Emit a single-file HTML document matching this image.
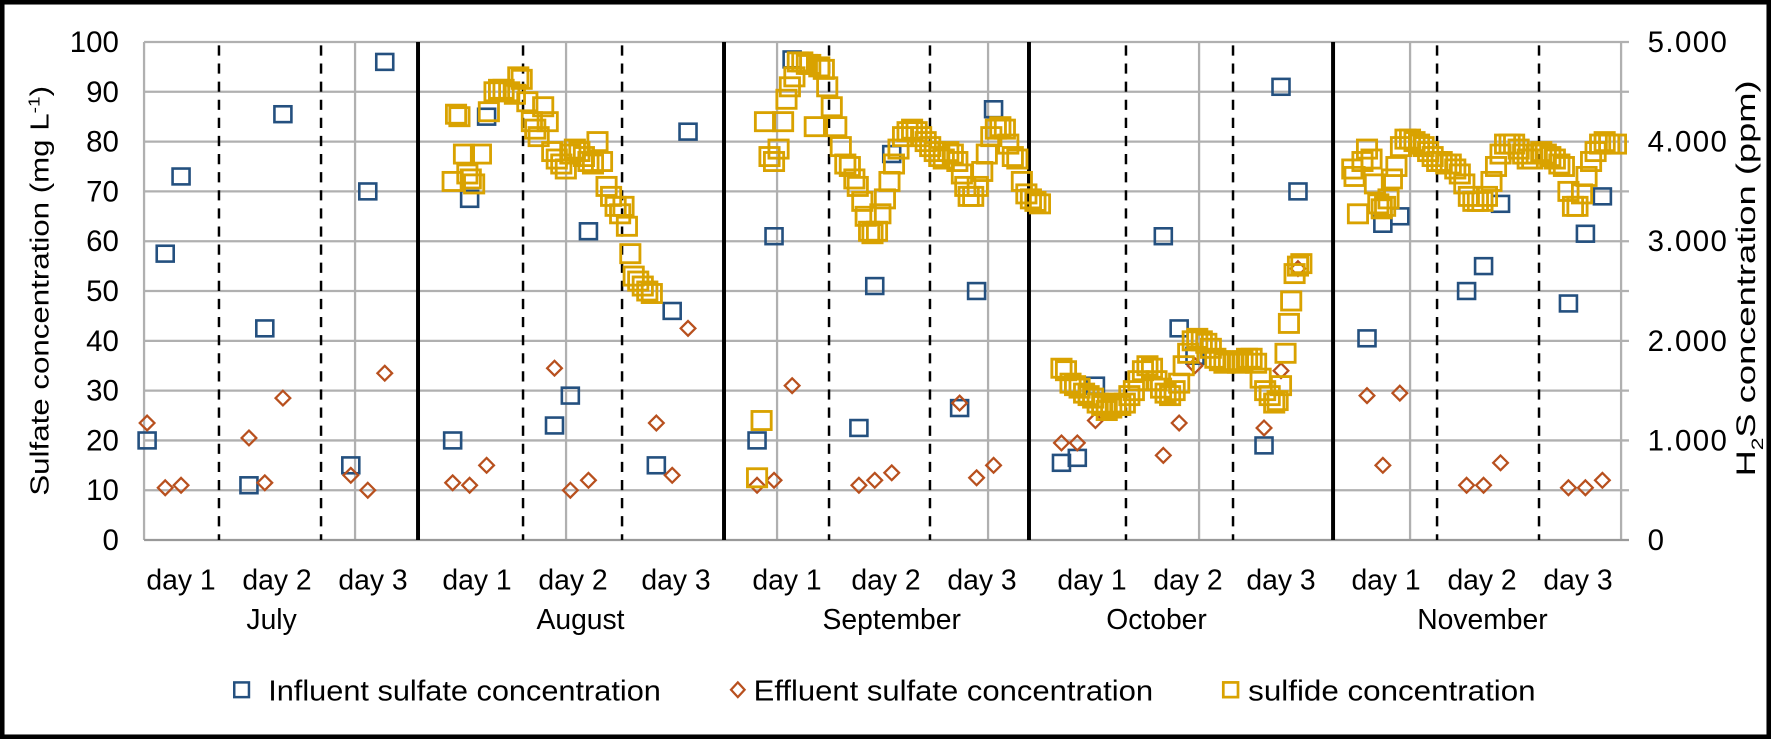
<!DOCTYPE html>
<html><head><meta charset="utf-8"><style>
html,body{margin:0;padding:0;background:#fff}
svg{display:block}
text{font-family:"Liberation Sans",sans-serif;fill:#000}
</style></head><body>
<svg id="s" width="1771" height="739" viewBox="0 0 1565 653" preserveAspectRatio="none" xmlns="http://www.w3.org/2000/svg">
<rect x="2" y="2" width="1561" height="649" fill="#fff" stroke="#000" stroke-width="4"/>
<g id="grid"></g>
<g id="pts"></g>
<g font-size="26">
<text x="105" y="46" text-anchor="end">100</text>
<text x="105" y="90" text-anchor="end">90</text>
<text x="105" y="134" text-anchor="end">80</text>
<text x="105" y="178" text-anchor="end">70</text>
<text x="105" y="222" text-anchor="end">60</text>
<text x="105" y="266" text-anchor="end">50</text>
<text x="105" y="310" text-anchor="end">40</text>
<text x="105" y="354" text-anchor="end">30</text>
<text x="105" y="398" text-anchor="end">20</text>
<text x="105" y="442" text-anchor="end">10</text>
<text x="105" y="486" text-anchor="end">0</text>
<text x="1456" y="46" textLength="70">5.000</text>
<text x="1456" y="134" textLength="70">4.000</text>
<text x="1456" y="222" textLength="70">3.000</text>
<text x="1456" y="310" textLength="70">2.000</text>
<text x="1456" y="398" textLength="70">1.000</text>
<text x="1456" y="486">0</text>
</g>
<text font-size="23" transform="translate(43,257) rotate(-90)" text-anchor="middle" textLength="362" lengthAdjust="spacingAndGlyphs">Sulfate concentration (mg L<tspan dy="-8" font-size="14">-1</tspan><tspan dy="8">)</tspan></text>
<text font-size="24" transform="translate(1551,246) rotate(-90)" text-anchor="middle" textLength="350" lengthAdjust="spacingAndGlyphs">H<tspan dy="7" font-size="15">2</tspan><tspan dy="-7">S concentration (ppm)</tspan></text>
<g font-size="25" text-anchor="middle" id="days"></g>
<g font-size="25" text-anchor="middle">
<text x="240" y="556">July</text>
<text x="513" y="556">August</text>
<text x="788" y="556">September</text>
<text x="1022" y="556">October</text>
<text x="1310" y="556">November</text>
</g>
<g font-size="25">
<rect x="207" y="603" width="13" height="13" fill="none" stroke="#24507f" stroke-width="2.2"/>
<text x="237" y="619" textLength="347" lengthAdjust="spacingAndGlyphs">Influent sulfate concentration</text>
<path d="M652 603 L658 609.5 L652 616 L646 609.5 Z" fill="none" stroke="#b8501e" stroke-width="2"/>
<text x="666" y="619" textLength="353" lengthAdjust="spacingAndGlyphs">Effluent sulfate concentration</text>
<rect x="1081" y="603" width="13" height="13" fill="none" stroke="#d9a200" stroke-width="2.4"/>
<text x="1103" y="619" textLength="254" lengthAdjust="spacingAndGlyphs">sulfide concentration</text>
</g>
</svg>
<script>
const NS="http://www.w3.org/2000/svg";
function el(p,t,a){const e=document.createElementNS(NS,t);for(const k in a)e.setAttribute(k,a[k]);document.getElementById(p).appendChild(e);return e;}
const L=127.3,R=1432.5,T=37.1,B=477.2;const Y=v=>B-4.401*v;
for(let v=10;v<=100;v+=10)el('grid','line',{x1:L,x2:R+7,y1:Y(v),y2:Y(v),stroke:'#b0b0b0','stroke-width':2});
for(let k=0;k<=7;k++){const x=L+186.46*k;el('grid','line',{x1:x,x2:x,y1:T,y2:B,stroke:'#b0b0b0','stroke-width':2});}
el('grid','line',{x1:L,x2:R+7,y1:B,y2:B,stroke:'#999','stroke-width':2});
[369.4,639.8,909.3,1178].forEach(x=>el('grid','line',{x1:x,x2:x,y1:T,y2:B,stroke:'#000','stroke-width':3.5}));
[193.5,283.7,462.2,549.7,732.6,821.8,995,1089.6,1269.9,1360].forEach(x=>el('grid','line',{x1:x,x2:x,y1:T+3,y2:B,stroke:'#000','stroke-width':2.2,'stroke-dasharray':'9 7'}));
const dx=[181,277,373,477,573,676,787,886,982,1092,1188,1281,1386,1482,1578].map(v=>v/1.1316);
dx.forEach((x,i)=>{const t=el('days','text',{x:x,y:521});t.textContent='day '+(i%3+1);});
const yel={400:72,403:85.5,406:85,410:77.5,413:73.5,416:72.5,419:71.5,425:77.5,432:86,437:90,441:90.5,445:90.5,450:90,455:89.5,458:93,461:92.5,466:88,470:84,473:82.5,476:81,480:87,484:84,488:78,492:76.5,496:75.5,500:74.5,504:77.5,508:78.5,512:78,516:77,520:76,524:75.5,528:80,532:76,536:71,540:69,544:67,548:65.5,551:67,554:63,557:57.5,560:53,564:52,568:51,572:50,576:49.5,
669:12.5,673:24,676:84,680:77,684:76,688:78.5,692:84,695:88.5,698:91,702:93,705:96,709:96,713:95.5,716:95.5,720:83,724:95,728:94.5,731:91,735:87,739:83,743:79,747:75.5,751:75,755:72.5,758:71,762:68,765:65,768:62,771:61.5,775:62,778:65.5,782:68.5,786:72,790:75.5,794:78.5,798:81,802:82,806:82.5,810:82,814:81,818:80,822:79,826:78,830:77,834:76.5,838:78,842:77.5,846:76,850:73.5,853:71,856:69,860:69,864:71,868:74,872:77.5,876:81,880:82.5,884:83,888:82.5,891:79.5,895:77,899:76.5,903:72,907:69.5,911:68.5,915:68,919:67.5,
938:34.5,942:34,946:31.5,950:31,954:30.5,958:29.5,962:29,966:28.5,970:27.5,974:27,978:26,982:26.5,986:27.5,990:27,994:27.5,998:29,1002:30,1006:32,1010:34,1014:35,1018:34.5,1022:32,1026:30.5,1030:29.5,1034:29,1038:30,1042:31.5,1046:35,1050:37.5,1054:40,1058:40.5,1062:40,1066:39.5,1070:38.5,1074:36.5,1078:36,1082:35.5,1086:36,1090:36,1094:35.5,1098:36,1102:36.5,1106:36.5,1110:35.5,1114:32.5,1118:30,1122:29,1126:27.5,1129:28,1132:31,1136:37.5,1139:43.5,1141:48,1144:53.5,1147:55,1150:55.5,
1195:74.5,1197:73,1200:65.5,1204:76,1208:78.5,1212:76.5,1215:71.5,1218:67.5,1221:66.5,1224:67,1227:68.5,1230:72.5,1234:75,1238:79,1242:80.5,1246:80.5,1250:80,1254:79.5,1258:79,1262:78,1266:77,1270:76,1274:76,1278:75.5,1282:75.5,1286:74.5,1290:73.5,1294:71.5,1298:69,1302:68,1306:68,1310:68,1314:69,1318:72,1322:75,1326:77.5,1330:79.5,1334:79.5,1338:79.5,1342:78.5,1346:77.5,1350:76.5,1354:76.5,1358:77.5,1362:78,1366:77.5,1370:77,1374:76.5,1378:75.5,1382:75,1386:70,1390:67,1394:67,1398:69.5,1402:73,1406:76,1410:78,1414:79.5,1418:80,1422:79.5,1428:79.5};
const blue=[[130,20],[146,57.5],[160,73],[220,11],[234,42.5],[250,85.5],[310,15],[325,70],[340,96],[400,20],[415,68.5],[430,85],[490,23],[504,29],[520,62],[580,15],[594,46],[608,82],[669,20],[684,61],[700,96.5],[759,22.5],[773,51],[788,77.5],[848,26.5],[863,50],[878,86.5],[938,15.5],[952,16.5],[968,31],[1028,61],[1042,42.5],[1056,37],[1117,19],[1132,91],[1147,70],[1208,40.5],[1222,63.5],[1237,65],[1296,50],[1311,55],[1326,67.5],[1386,47.5],[1401,61.5],[1416,69]];
const dia=[[130,23.5],[146,10.5],[160,11],[220,20.5],[234,11.5],[250,28.5],[310,13],[325,10],[340,33.5],[400,11.5],[415,11],[430,15],[490,34.5],[504,10],[520,12],[580,23.5],[594,13],[608,42.5],[669,11],[684,12],[700,31],[759,11],[773,12],[788,13.5],[848,27.5],[863,12.5],[878,15],[938,19.5],[952,19.5],[968,24],[1028,17],[1042,23.5],[1056,35],[1117,22.5],[1132,34],[1147,54.5],[1208,29],[1222,15],[1237,29.5],[1296,11],[1311,11],[1326,15.5],[1386,10.5],[1401,10.5],[1416,12]];
blue.forEach(([x,v])=>el('pts','rect',{x:x-7.5,y:Y(v)-7,width:15,height:14,fill:'none',stroke:'#24507f','stroke-width':2.3}));
dia.forEach(([x,v])=>{const y=Y(v);el('pts','path',{d:`M${x} ${y-6.5}L${x+6.5} ${y}L${x} ${y+6.5}L${x-6.5} ${y}Z`,fill:'none',stroke:'#b8501e','stroke-width':2});});
for(const k in yel){const x=+k,y=Y(yel[k]);el('pts','rect',{x:x-8.5,y:y-8,width:17,height:16,fill:'none',stroke:'#d9a200','stroke-width':2.5});}
</script>
</body></html>
